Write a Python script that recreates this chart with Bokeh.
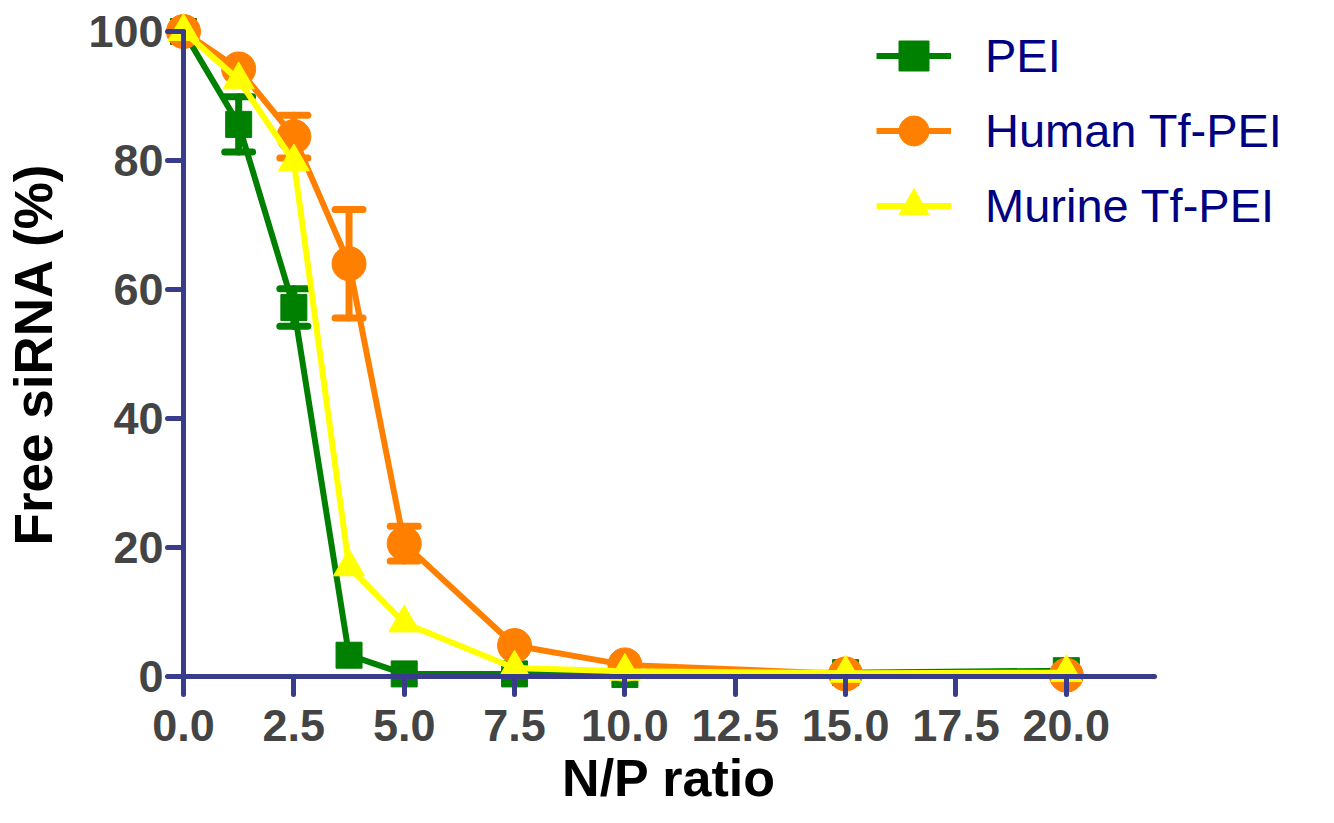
from bokeh.plotting import figure
from bokeh.models import (ColumnDataSource, Whisker, TeeHead, Legend, LegendItem,
                          FixedTicker, Range1d)
from bokeh.embed import file_html
from bokeh.resources import INLINE

# ---- data ----
np_ratio = [0, 1.25, 2.5, 3.75, 5, 7.5, 10, 15, 20]
pei = [100, 85.6, 57.2, 3.3, 0.4, 0.4, 0.3, 0.6, 0.9]
pei_err = [0, 4.3, 2.9, 0, 0, 0, 0, 0, 0]
human_tf_pei = [100, 94.2, 83.7, 64.0, 20.6, 4.8, 1.8, 0.4, 0.2]
human_tf_pei_err = [0, 0, 3.3, 8.4, 2.7, 0, 0, 0, 0]
murine_tf_pei = [100, 92.5, 79.8, 17.0, 8.3, 1.3, 0.8, 0.5, 0.6]

series_names = ["PEI", "Human Tf-PEI", "Murine Tf-PEI"]

x_ticks = [0, 2.5, 5, 7.5, 10, 12.5, 15, 17.5, 20]
x_tick_labels = ["0.0", "2.5", "5.0", "7.5", "10.0", "12.5", "15.0", "17.5", "20.0"]
y_ticks = [0, 20, 40, 60, 80, 100]
y_tick_labels = ["0", "20", "40", "60", "80", "100"]

GREEN = "#008000"
ORANGE = "#ff8000"
YELLOW = "#ffff00"
AXIS = "#383c8a"
FONT = "Liberation Sans"

W, H = 1318, 807
p = figure(frame_width=W, frame_height=H,
           min_border_left=0, min_border_right=0,
           min_border_top=0, min_border_bottom=0,
           x_range=Range1d(-4.146, 25.713), y_range=Range1d(-20.31, 104.806),
           output_backend="svg", toolbar_location=None)
p.outline_line_color = None
p.grid.visible = False
p.background_fill_color = "white"

# ---- axes ----
xa = p.xaxis[0]
xa.fixed_location = 0
xa.bounds = (0, 22)
xa.ticker = FixedTicker(ticks=x_ticks)
xa.major_label_overrides = {t: l for t, l in zip(x_ticks, x_tick_labels)}
xa.axis_label = "N/P ratio"
xa.major_tick_out = 18
xa.major_tick_in = 0
xa.major_label_standoff = 15
xa.axis_label_standoff = 5

ya = p.yaxis[0]
ya.fixed_location = 0
ya.bounds = (0, 100)
ya.ticker = FixedTicker(ticks=y_ticks)
ya.major_label_overrides = {t: l for t, l in zip(y_ticks, y_tick_labels)}
ya.axis_label = "Free siRNA (%)"
ya.major_tick_out = 16
ya.major_tick_in = 0
ya.major_label_standoff = 4
ya.axis_label_standoff = 22

for ax in (xa, ya):
    ax.axis_line_color = AXIS
    ax.axis_line_width = 5
    ax.axis_line_cap = "round"
    ax.major_tick_line_color = AXIS
    ax.major_tick_line_width = 5
    ax.major_tick_line_cap = "round"
    ax.minor_tick_line_color = None
    ax.major_label_text_font = FONT
    ax.major_label_text_font_style = "bold"
    ax.major_label_text_font_size = "45px"
    ax.major_label_text_color = "#444444"
    ax.axis_label_text_font = FONT
    ax.axis_label_text_font_style = "bold"
    ax.axis_label_text_color = "#000000"
xa.axis_label_text_font_size = "52px"
ya.axis_label_text_font_size = "53px"


def err_source(xs, ys, es):
    pts = [(x, y, e) for x, y, e in zip(xs, ys, es) if e > 0]
    return ColumnDataSource(dict(x=[a for a, _, _ in pts],
                                 lo=[b - c for _, b, c in pts],
                                 hi=[b + c for _, b, c in pts]))


def add_whisker(src, color):
    w = Whisker(base="x", lower="lo", upper="hi", source=src,
                line_color=color, line_width=7, line_cap="round",
                upper_head=TeeHead(size=28, line_color=color, line_width=7, line_cap="round"),
                lower_head=TeeHead(size=28, line_color=color, line_width=7, line_cap="round"),
                level="glyph")
    p.renderers.append(w)


# PEI
l1 = p.line(np_ratio, pei, line_color=GREEN, line_width=6)
add_whisker(err_source(np_ratio, pei, pei_err), GREEN)
s1 = p.scatter(np_ratio, pei, marker="square", size=26, fill_color=GREEN, line_color=GREEN)

# Human Tf-PEI
l2 = p.line(np_ratio, human_tf_pei, line_color=ORANGE, line_width=6)
add_whisker(err_source(np_ratio, human_tf_pei, human_tf_pei_err), ORANGE)
s2 = p.scatter(np_ratio, human_tf_pei, marker="circle", size=34, fill_color=ORANGE, line_color=ORANGE)

# Murine Tf-PEI
l3 = p.line(np_ratio, murine_tf_pei, line_color=YELLOW, line_width=6)
s3 = p.scatter(np_ratio, murine_tf_pei, marker="triangle", size=31, fill_color=YELLOW, line_color=YELLOW)

legend = Legend(items=[LegendItem(label=series_names[0], renderers=[l1, s1]),
                       LegendItem(label=series_names[1], renderers=[l2, s2]),
                       LegendItem(label=series_names[2], renderers=[l3, s3])],
                location=(876, 564), glyph_width=75, glyph_height=75,
                spacing=0, padding=0, margin=0, label_standoff=34,
                border_line_color=None, background_fill_alpha=0,
                label_text_font=FONT, label_text_font_size="47px",
                label_text_color="#000080")
p.add_layout(legend)

open("out.html", "w").write(file_html(p, INLINE))
